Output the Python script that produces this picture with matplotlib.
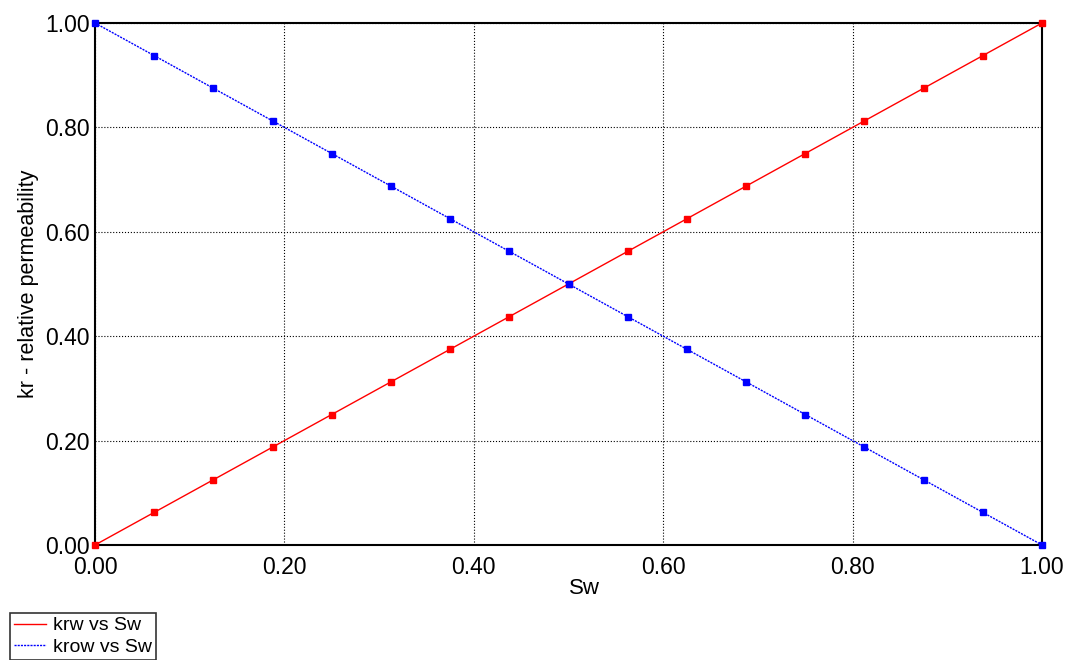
import numpy as np
import matplotlib.pyplot as plt
from matplotlib.ticker import FormatStrFormatter
from matplotlib.lines import Line2D

plt.rcParams['font.family'] = ['Liberation Sans', 'DejaVu Sans']

# saturation points and relative permeabilities
sw = [0.0, 0.0625, 0.125, 0.1875, 0.25, 0.3125, 0.375, 0.4375, 0.5,
      0.5625, 0.625, 0.6875, 0.75, 0.8125, 0.875, 0.9375, 1.0]
krw = [0.0, 0.0625, 0.125, 0.1875, 0.25, 0.3125, 0.375, 0.4375, 0.5,
       0.5625, 0.625, 0.6875, 0.75, 0.8125, 0.875, 0.9375, 1.0]
krow = [1.0, 0.9375, 0.875, 0.8125, 0.75, 0.6875, 0.625, 0.5625, 0.5,
        0.4375, 0.375, 0.3125, 0.25, 0.1875, 0.125, 0.0625, 0.0]
ticks = [0.0, 0.2, 0.4, 0.6, 0.8, 1.0]
labels = ['krw vs Sw', 'krow vs Sw']


def main():
    fig = plt.figure(figsize=(10.7, 6.6), dpi=100)
    ax = fig.add_axes([95 / 1070, 1 - 545 / 660, (1042 - 95) / 1070, (545 - 23) / 660])

    blue_ls = (0, (1.5, 0.8))
    ax.plot(sw, krw, color='#ff0000', lw=1.0, marker='s', ms=4,
            clip_on=False, zorder=3)
    ax.plot(sw, krow, color='#0000ff', lw=1.0, ls=blue_ls, marker='s', ms=4,
            clip_on=False, zorder=3)

    ax.set_xlim(0, 1)
    ax.set_ylim(0, 1)
    ax.set_xticks(ticks)
    ax.set_yticks(ticks)
    ax.xaxis.set_major_formatter(FormatStrFormatter('%.2f'))
    ax.yaxis.set_major_formatter(FormatStrFormatter('%.2f'))
    ax.tick_params(labelsize=16.5, length=0, colors='black')
    ax.tick_params(axis='x', pad=8)
    ax.tick_params(axis='y', pad=4)
    ax.grid(True, color='black', ls=':', lw=0.8)
    for s in ax.spines.values():
        s.set_linewidth(1.5)

    ax.set_xlabel('Sw', fontsize=16)
    ax.xaxis.set_label_coords(0.5 + 16 / 947, -33 / 522, transform=ax.transAxes)
    ax.xaxis.label.set_va('top')
    ax.set_ylabel('kr - relative permeability', fontsize=15.5, labelpad=4)

    # legend without markers, as in the reference
    handles = [Line2D([], [], color='#ff0000', lw=1.0),
               Line2D([], [], color='#0000ff', lw=1.0, ls=blue_ls)]
    leg = fig.legend(handles, labels, loc='upper left',
                     bbox_to_anchor=(10 / 1070, 1 - 613 / 660),
                     fontsize=14, frameon=True, fancybox=False, borderpad=0.2,
                     handlelength=1.65, handletextpad=0.36, labelspacing=0.2,
                     borderaxespad=0)
    leg.get_frame().set_edgecolor('black')
    leg.get_frame().set_linewidth(1.2)

    fig.savefig('out.png', dpi=100)


if __name__ == '__main__':
    main()
